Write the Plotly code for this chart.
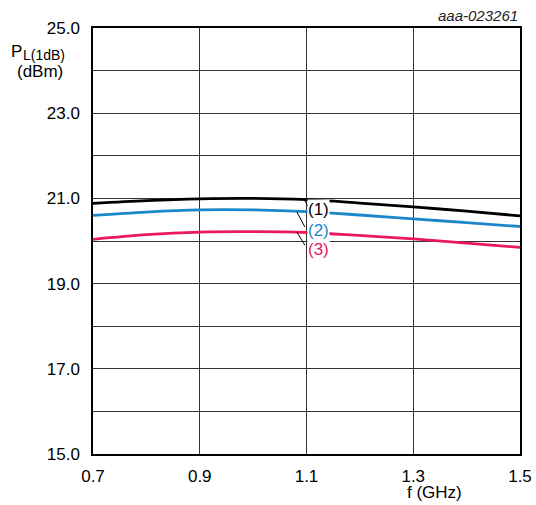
import plotly.graph_objects as go

freq = [0.7, 0.8, 0.9, 1.0, 1.1, 1.2, 1.3, 1.4, 1.5]
p1 = [20.885, 20.95, 20.99, 21.0, 20.97, 20.89, 20.80, 20.70, 20.59]
p2 = [20.60, 20.68, 20.73, 20.73, 20.69, 20.61, 20.52, 20.43, 20.34]
p3 = [20.04, 20.15, 20.21, 20.22, 20.20, 20.13, 20.05, 19.95, 19.85]
series_names = ["(1)", "(2)", "(3)"]
colors = ["#000000", "#1b87c9", "#e8195e"]

y_ticks = [15, 16, 17, 18, 19, 20, 21, 22, 23, 24, 25]
y_ticktext = [f"{v:.1f}" if v % 2 == 1 else "" for v in y_ticks]
x_ticks = [0.7, 0.9, 1.1, 1.3, 1.5]
x_ticktext = ["0.7", "0.9", "1.1", "1.3", "1.5"]

label_x = [1.123, 1.123, 1.123]
label_y = [20.73, 20.25, 19.79]
leader_x0 = [1.095, 1.082, 1.082]
leader_y0 = [20.99, 20.68, 20.21]
leader_x1 = [1.108, 1.097, 1.097]
leader_y1 = [20.70, 20.33, 19.90]

font = "Liberation Sans, Arial, sans-serif"
fig = go.Figure()
for ys, c, n in zip([p1, p2, p3], colors, series_names):
    fig.add_trace(go.Scatter(x=freq, y=ys, mode="lines", name=n,
                             line=dict(color=c, width=2.8, shape="spline"),
                             showlegend=False, hoverinfo="skip"))

for x0, y0, x1, y1 in zip(leader_x0, leader_y0, leader_x1, leader_y1):
    fig.add_shape(type="line", x0=x0, y0=y0, x1=x1, y1=y1,
                  line=dict(color="black", width=1), layer="above")

for lx, ly, c, n in zip(label_x, label_y, colors, series_names):
    fig.add_annotation(x=lx, y=ly, text=n, showarrow=False,
                       font=dict(family=font, size=17, color=c),
                       bgcolor="white", borderpad=0, xanchor="center", yanchor="middle")

fig.add_annotation(xref="paper", yref="paper", x=1.0, y=1.0, yshift=13,
                   text="<i>aaa-023261</i>", showarrow=False,
                   xanchor="right", yanchor="middle",
                   font=dict(family=font, size=15, color="#222"))
# y-axis title pieces: P, subscript L(1dB), (dBm)
fig.add_annotation(xref="paper", yref="paper", x=-0.197, y=0.944,
                   text="P", showarrow=False, xanchor="left", yanchor="middle",
                   font=dict(family=font, size=17, color="black"))
fig.add_annotation(xref="paper", yref="paper", x=-0.168, y=0.937,
                   text="L(1dB)", showarrow=False, xanchor="left", yanchor="middle",
                   font=dict(family=font, size=14, color="black"))
fig.add_annotation(xref="paper", yref="paper", x=-0.125, y=0.899,
                   text="(dBm)", showarrow=False, xanchor="center", yanchor="middle",
                   font=dict(family=font, size=17, color="black"))
fig.add_annotation(xref="paper", yref="paper", x=0.7307, y=0, yshift=-27,
                   text="f (GHz)", showarrow=False,
                   xanchor="left", yanchor="top",
                   font=dict(family=font, size=17, color="black"))

fig.update_layout(
    width=536, height=505,
    margin=dict(l=93, r=16, t=28, b=51, autoexpand=False),
    paper_bgcolor="white", plot_bgcolor="white",
    font=dict(family=font, size=17, color="black"),
    hovermode=False,
    xaxis=dict(range=[0.7, 1.5], tickvals=x_ticks, ticktext=x_ticktext,
               showgrid=True, gridcolor="#333", gridwidth=1, automargin=False,
               showline=True, linecolor="black", linewidth=1.5, mirror=True,
               ticks="", zeroline=False, ticklabelstandoff=6),
    yaxis=dict(range=[15, 25], tickvals=y_ticks, ticktext=y_ticktext,
               showgrid=True, gridcolor="#333", gridwidth=1, automargin=False,
               showline=True, linecolor="black", linewidth=1.5, mirror=True,
               ticks="", zeroline=False, ticklabelstandoff=8),
)
fig.write_html("out.html", config={"displayModeBar": False},
               post_script="document.body.style.margin='0';document.body.style.overflow='hidden';")
